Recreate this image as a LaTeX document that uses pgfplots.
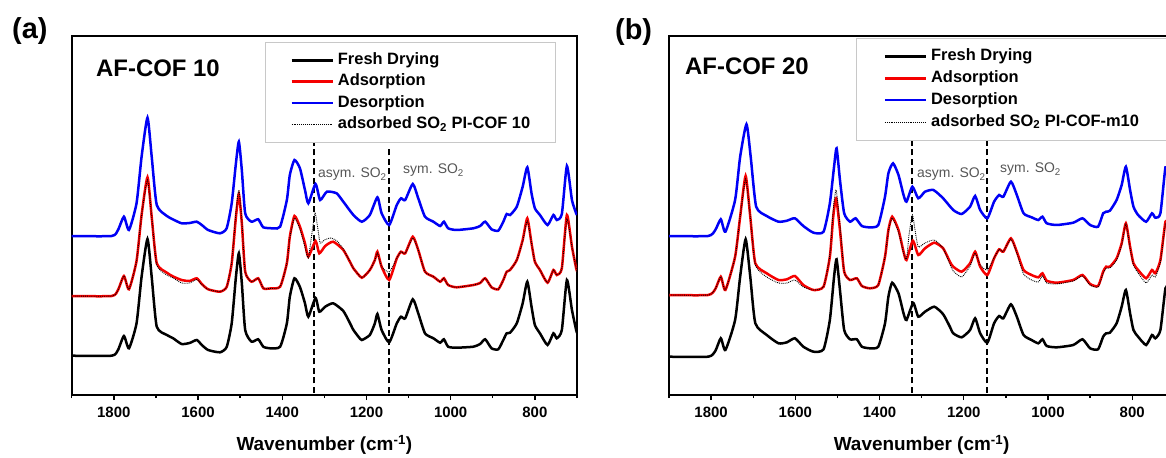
\documentclass[border=0pt]{standalone}
\usepackage{pgfplots}
\usepackage{pgfplotstable}
\pgfplotsset{compat=1.18}
\usepackage{fontspec}
\setmainfont{Liberation Sans}
\definecolor{cred}{RGB}{245,0,0}
\definecolor{cblue}{RGB}{0,0,245}
\definecolor{annot}{RGB}{85,85,85}
\definecolor{legbox}{RGB}{200,200,200}

% ---------------- panel (a) ----------------
\pgfplotstableread{
x y
1900 39.3
1805 39.3
1790 45
1776 59
1764 46.7
1746 71.7
1734 118.3
1720 156
1710 118
1698 68.3
1674 60
1659 56.7
1639 51
1620 52
1603 55
1591 50
1576 45
1548 42.7
1532 48
1520 71.7
1510 118
1503 141.7
1496 112
1488 65
1473 53.3
1457 55.7
1445 48.3
1429 46.7
1405 48.3
1389 71.7
1382 98.3
1371 116.7
1358 108
1346 91.7
1338 78.3
1321 97
1312 83.3
1298 88.3
1279 91.7
1255 84
1239 71.7
1231 65
1219 58.3
1211 55
1192 60
1180 71.7
1174 81
1164 65
1146 52.7
1128 71.7
1118 78.3
1108 76.7
1090 95.7
1077 81.7
1061 61.7
1041 56.7
1025 52.3
1016 55.7
1006 48.3
986 47.3
946 48.3
930 51
918 55.7
903 46.7
887 45.7
875 55
867 61.7
859 62.3
843 71.7
829 91.7
818 113.3
808 88.3
800 70
788 61.7
770 50
756 61.7
748 56.7
736 65
724 115
712 85
702 65
700 62
}\blackA

\pgfplotstableread{
x y
1900 99
1805 99
1790 105
1776 119
1764 105.7
1746 134
1734 180
1720 217.7
1710 178
1698 131.7
1674 122.3
1659 118.5
1639 115
1620 114
1603 116.7
1591 111
1576 105.7
1548 103.3
1532 108
1520 131.7
1510 178
1503 201
1496 172
1488 123.3
1473 113.3
1457 116.7
1445 106.7
1429 106.5
1405 108.3
1389 132
1382 158.3
1371 179
1358 168.3
1346 151.7
1338 138.3
1321 154
1312 141.7
1298 149
1279 153.3
1255 145
1239 133
1231 126.7
1211 117.3
1192 125
1180 135
1174 143.3
1164 128.3
1146 115
1128 136.7
1118 143.3
1108 141.7
1090 158.3
1077 145
1061 123.3
1041 118.3
1025 113.3
1016 116.7
1006 110
986 107.7
946 110
930 112
918 116.7
903 107.7
887 105.7
875 115
867 123.3
859 125
843 135
829 155
818 176.7
808 151.7
800 133.3
788 125
770 112.3
756 125
748 120
736 126.7
724 180
712 148.3
702 126.7
700 124
}\redA

\pgfplotstableread{
x y
1900 159
1805 159
1790 165
1776 178.3
1764 165
1746 191.7
1734 238.3
1720 277.3
1710 238.3
1698 190
1674 179
1659 175.5
1639 171.7
1620 172
1603 173.3
1591 170
1576 165
1548 161.7
1532 166.7
1520 191.7
1510 231.7
1503 253.3
1496 225
1488 181.7
1473 173.3
1457 175.7
1445 167.7
1420 166.7
1405 168.3
1389 195
1382 220
1371 235
1358 226.7
1346 205
1338 191.7
1321 211
1310 195
1294 203.3
1271 201.7
1255 193.3
1231 180
1211 173.3
1192 180
1174 197.7
1164 181.7
1146 170
1128 190
1118 196.7
1108 195
1090 211
1077 196.7
1061 178.3
1041 173.3
1025 169
1016 173.3
1006 166.7
986 165
946 166.7
930 169
918 173.3
903 165.7
887 164.3
875 173.3
867 181
859 180
843 188.3
829 208.3
818 227.7
808 201.7
800 186.7
788 180
770 170
756 180
748 175
736 181
724 229
712 195
702 181.7
700 180
}\blueA

\pgfplotstableread{
x y
1900 99
1805 99
1790 105
1776 119
1764 105.7
1746 134
1734 180
1720 215
1710 178
1698 130
1674 120
1659 117
1639 112
1620 112
1603 115.5
1591 110.5
1576 105.7
1548 103.3
1532 108
1520 133
1510 182
1503 205
1496 174
1488 123.3
1473 113.3
1457 116.7
1445 106.7
1429 106.5
1405 108.3
1389 132
1382 157
1371 177
1358 166
1346 148
1338 137
1330 160
1322 181.7
1315 165
1310 152
1300 155
1285 157
1270 154
1255 146
1239 133
1231 126.7
1211 117.3
1192 125
1180 135
1174 142
1164 128.3
1146 123
1128 136.7
1118 143.3
1108 141.7
1090 157
1077 145
1061 123.3
1041 118.3
1025 113.3
1016 116.7
1006 110
986 107.7
946 110
930 112
918 116.7
903 107.7
887 105.7
875 115
867 123.3
859 125
843 135
829 154
818 174
808 151.7
800 133.3
788 125
770 112.3
756 125
748 120
736 126.7
724 176
712 148.3
702 126.7
700 124
}\dotA

% ---------------- panel (b) ----------------
\pgfplotstableread{
x y
1900 38.3
1807 38.3
1790 44
1777 56.7
1766 45
1743 75
1731 118.3
1718 155.7
1707 118.3
1695 71.7
1668 60
1640 51.7
1620 52.7
1601 56.7
1581 48.3
1557 43.3
1533 45.7
1518 75
1508 118.3
1502 135.7
1494 105
1484 65
1470 55.7
1454 55.7
1442 48.3
1423 46.7
1403 48.3
1387 71.7
1379 98.3
1370 112.3
1355 101.7
1343 81.7
1336 75
1320 92
1308 78.3
1292 83.3
1270 88.3
1249 80.8
1233 68.3
1225 61.7
1205 57.7
1185 65
1173 76.7
1161 61.7
1144 52.3
1128 71.7
1116 79
1106 76.7
1088 90.7
1074 78.3
1058 60
1039 55
1023 51.7
1013 55.7
1003 49
979 47.7
940 50
918 55.7
900 46.7
881 45.7
869 58.3
862 61.7
853 62.3
837 71.7
825 88.3
815 105
805 81.7
797 65
786 58.3
767 50
753 60
745 56.7
733 65
721 106.7
715 100
700 65
}\blackB

\pgfplotstableread{
x y
1900 100
1807 100
1790 106
1777 118.3
1766 105
1743 138.3
1731 178.3
1718 219
1707 178.3
1695 131.7
1668 121.7
1640 115
1620 115.7
1601 119
1581 110
1557 105
1533 108.3
1518 138.3
1510 178.3
1503 196.7
1494 165
1484 123.3
1470 115
1454 116.7
1442 109
1423 106.7
1403 110
1387 138.3
1379 165
1370 178.3
1355 165
1343 143.3
1336 135
1321 154.3
1308 140
1292 146.7
1270 152.3
1249 146.7
1233 133.3
1225 128.3
1205 123.3
1185 131.7
1173 143.3
1161 128.3
1144 120
1128 136.7
1116 145.7
1106 143.3
1088 156.7
1074 143.3
1058 125
1039 120
1023 117.7
1013 121.7
1003 114.3
979 112.3
940 115
918 120
900 111
881 109
869 123.3
862 128.3
853 128.3
837 136.7
825 151.7
815 171.7
805 148.3
797 131.7
786 125
767 116.7
753 125
745 121.7
733 135
721 173.3
715 165
700 130
}\redB

\pgfplotstableread{
x y
1900 159
1807 159
1790 165
1777 175.7
1766 163.3
1743 195
1731 238.3
1716 270.7
1706 238.3
1693 188.3
1668 179
1640 173.3
1620 174.3
1601 176.7
1581 169
1557 162.3
1533 163.3
1518 191.7
1508 228.3
1502 246.7
1494 215
1484 181.7
1470 173.3
1457 176.7
1442 169
1423 167.7
1403 170
1387 198.3
1379 221.7
1368 231.7
1355 220
1343 200
1336 193.3
1322 208.3
1308 196.7
1292 203.3
1272 205
1249 196.7
1225 185
1205 181
1185 188.3
1173 199
1161 185
1144 176.7
1128 193.3
1116 200
1106 198.3
1088 213.3
1074 200
1058 181.7
1039 177.7
1023 175
1013 178.3
1003 171.7
979 170
940 172.3
918 176.7
900 170
881 168.3
869 181.7
862 183.3
853 184.3
837 195
825 210
815 228.3
805 205
797 188.3
786 180
767 173.3
753 181.7
745 177.3
733 181.7
721 227.7
715 215
700 180
}\blueB

\pgfplotstableread{
x y
1900 100
1807 100
1790 106
1777 118.3
1766 105
1743 138.3
1731 178.3
1718 216
1707 178.3
1695 130
1668 118
1640 112
1620 112
1601 115
1581 108
1557 105
1533 108.3
1518 140
1510 185
1503 205
1494 170
1484 123.3
1470 115
1454 116.7
1442 109
1423 106.7
1403 110
1387 138.3
1379 164
1370 177
1355 163
1343 142
1336 136
1330 160
1322 180
1315 163
1308 148
1292 152
1270 155
1249 146.7
1233 131
1225 124
1205 118
1185 129
1173 142
1161 130
1144 125
1128 137
1116 145.7
1106 143.3
1088 156
1074 142
1058 121
1039 115
1023 113
1013 119
1003 112
979 111
940 114
918 119
900 110
881 108
869 122
862 127
853 127
837 135
825 150
815 171
805 147
797 130
786 122
767 112
753 120
745 118
733 133
721 171
715 163
700 128
}\dotB

\pgfplotsset{
  ftir/.style={
    scale only axis, width=505.3bp, height=359.3bp,
    x dir=reverse, xmin=700, xmax=1900, ymin=0, ymax=359.3,
    xtick={800,1000,...,1800}, minor xtick={700,900,...,1900},
    ytick=\empty, xtick pos=left, tick align=outside,
    major tick length=5bp, minor tick length=3bp,
    tick style={black, line width=1.4bp},
    axis line style={line width=1.7bp},
    /pgf/number format/assume math mode=true,
    /pgf/number format/1000 sep={},
    tick label style={font=\fontsize{15}{18}\selectfont\bfseries},
    xticklabel style={yshift=-4bp},
    xlabel={Wavenumber (cm\textsuperscript{-1})},
    every axis x label/.style={at={(axis description cs:0.5,0)}, anchor=center, yshift=-50bp,
      font=\fontsize{19}{22}\selectfont\bfseries},
    legend image code/.code={\draw[##1] (0bp,0bp) -- (41bp,0bp);},
    legend style={draw=legbox, line width=0.8bp, fill=white,
      font=\fontsize{16.5}{19}\selectfont\bfseries,
      inner xsep=25bp, inner ysep=10.5bp, row sep=5.8bp, column sep=4bp,
      nodes={inner sep=0pt, text height=12bp, text depth=3.5bp}},
    legend cell align=left,
  },
  fresh/.style={black, line width=2.5bp, smooth, tension=0.35},
  adsorp/.style={cred, line width=2.5bp, smooth, tension=0.35},
  desorp/.style={cblue, line width=2.5bp, smooth, tension=0.35},
  dotted ref/.style={black, line width=0.9bp, densely dotted, smooth, tension=0.35},
  vdash/.style={black, line width=1.8bp, dash pattern=on 6bp off 3.5bp, forget plot},
}

\begin{document}
\begin{tikzpicture}
\useasboundingbox (0bp,0bp) rectangle (1166bp,458bp);
\begin{scope}
\clip (0bp,0bp) rectangle (1166bp,458bp);

% panel (a)
\begin{axis}[ftir, at={(71.7bp,63bp)}, anchor=south west,
  legend style={at={(axis description cs:0.3826,0.9833)}, anchor=north west}]
  \addplot[vdash] coordinates {(1324,2) (1324,252)};
  \addplot[vdash] coordinates {(1146,2) (1146,246)};
  \addplot[fresh] table {\blackA};
  \addlegendentry{Fresh Drying}
  \addplot[adsorp] table {\redA};
  \addlegendentry{Adsorption}
  \addplot[desorp] table {\blueA};
  \addlegendentry{Desorption}
  \addplot[dotted ref] table {\dotA};
  \addlegendentry{adsorbed SO\textsubscript{2} PI-COF 10\hspace{7bp}}
\end{axis}

% panel (b)
\begin{axis}[ftir, at={(669bp,63bp)}, anchor=south west,
  legend style={at={(axis description cs:0.3705,0.9944)}, anchor=north west, row sep=6.4bp, inner xsep=27bp}]
  \addplot[vdash] coordinates {(1322,2) (1322,258)};
  \addplot[vdash] coordinates {(1144,2) (1144,267)};
  \addplot[fresh] table {\blackB};
  \addlegendentry{Fresh Drying}
  \addplot[adsorp] table {\redB};
  \addlegendentry{Adsorption}
  \addplot[desorp] table {\blueB};
  \addlegendentry{Desorption}
  \addplot[dotted ref] table {\dotB};
  \addlegendentry{adsorbed SO\textsubscript{2} PI-COF-m10}
\end{axis}

% panel letters and titles
\node[anchor=west, inner sep=0pt, font=\fontsize{29}{32}\selectfont\bfseries] at (12bp,426.5bp) {(a)};
\node[anchor=west, inner sep=0pt, font=\fontsize{29}{32}\selectfont\bfseries] at (615bp,425.5bp) {(b)};
\node[anchor=west, inner sep=0pt, font=\fontsize{24}{27}\selectfont\bfseries] at (96bp,390bp) {AF-COF 10};
\node[anchor=west, inner sep=0pt, font=\fontsize{24}{27}\selectfont\bfseries] at (685bp,392bp) {AF-COF 20};

% band annotations
\node[anchor=base west, inner sep=0pt, text=annot, font=\fontsize{14}{16}\selectfont] at (318bp,280bp) {asym. SO\textsubscript{2}};
\node[anchor=base west, inner sep=0pt, text=annot, font=\fontsize{14}{16}\selectfont] at (403bp,284bp) {sym. SO\textsubscript{2}};
\node[anchor=base west, inner sep=0pt, text=annot, font=\fontsize{14}{16}\selectfont] at (917bp,280bp) {asym. SO\textsubscript{2}};
\node[anchor=base west, inner sep=0pt, text=annot, font=\fontsize{14}{16}\selectfont] at (1000bp,285bp) {sym. SO\textsubscript{2}};
\end{scope}
\end{tikzpicture}
\end{document}
